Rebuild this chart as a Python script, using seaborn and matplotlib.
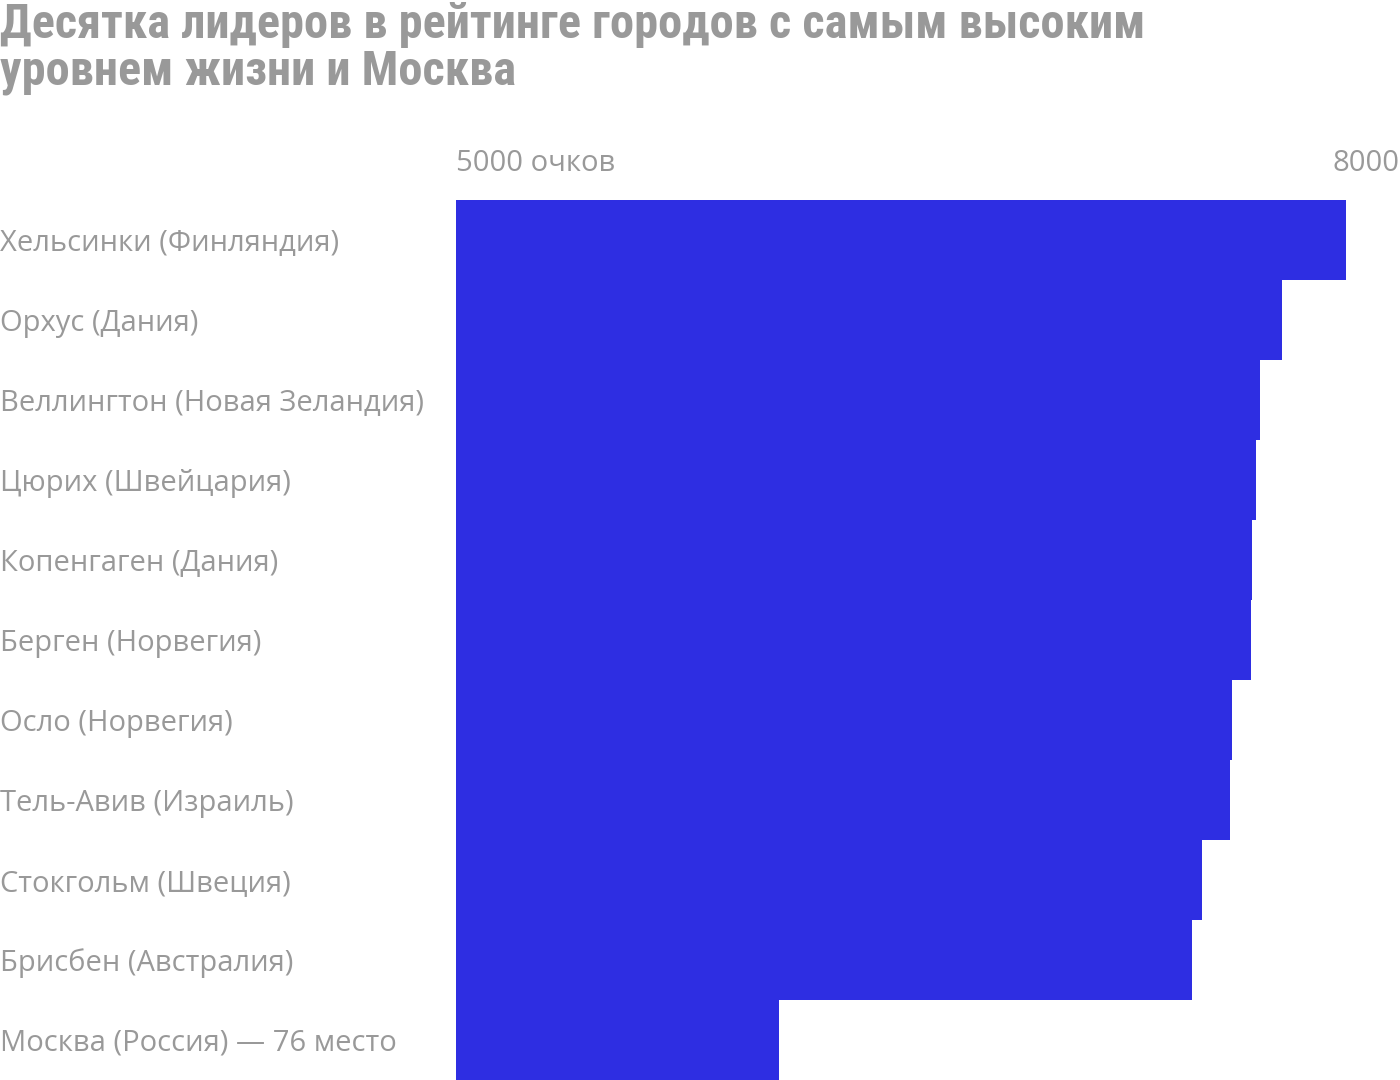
import matplotlib
matplotlib.use("Agg")
import matplotlib.pyplot as plt
import matplotlib.transforms as mtransforms
import seaborn as sns
import pandas as pd

# Data
cities = [
    "Хельсинки (Финляндия)",
    "Орхус (Дания)",
    "Веллингтон (Новая Зеландия)",
    "Цюрих (Швейцария)",
    "Копенгаген (Дания)",
    "Берген (Норвегия)",
    "Осло (Норвегия)",
    "Тель-Авив (Израиль)",
    "Стокгольм (Швеция)",
    "Брисбен (Австралия)",
    "Москва (Россия) — 76 место",
]
scores = [7828, 7625, 7555, 7542, 7530, 7528, 7466, 7460, 7371, 7339, 6027]
x_ticks = [5000, 8000]
x_tick_labels = ["5000 очков", "8000"]
title = "Десятка лидеров в рейтинге городов с самым высоким\nуровнем жизни и Москва"

df = pd.DataFrame({"city": cities, "score": scores})

sns.set_theme(style="white")
plt.rcParams["font.family"] = ["Open Sans", "DejaVu Sans"]

grey = "#999999"
bar_color = "#2E2EE2"

fig = plt.figure(figsize=(14, 10.8), dpi=100)
ax = fig.add_axes([456 / 1400, 0, 944 / 1400, 880 / 1080])

sns.barplot(data=df, x="score", y="city", orient="h", color=bar_color,
            saturation=1, width=1.0, ax=ax, linewidth=0)

ax.set_xlim(5000, 8000)
ax.set_ylim(len(cities) - 0.5, -0.5)
for s in ax.spines.values():
    s.set_visible(False)
ax.set_xlabel("")
ax.set_ylabel("")
ax.set_yticks([])

ax.xaxis.tick_top()
ax.set_xticks(x_ticks)
ax.set_xticklabels(x_tick_labels, fontsize=21, color=grey)
ax.tick_params(axis="x", length=0, pad=16)
labs = ax.get_xticklabels()
labs[0].set_ha("left")
labs[1].set_ha("right")

# city labels at the left edge of the figure, centred on each bar
trans = mtransforms.blended_transform_factory(fig.transFigure, ax.transData)
trans = mtransforms.offset_copy(trans, fig=fig, y=-2.2, units="points")
for i, name in enumerate(cities):
    ax.text(0.0, i, name, transform=trans, ha="left", va="center",
            fontsize=21, color=grey, clip_on=False)

fig.text(0.0, 1 - 2 / 1080, title, ha="left", va="top", fontsize=34.8,
         fontweight="bold", color=grey, linespacing=1.02,
         family=["Roboto Condensed", "Liberation Sans Narrow", "Roboto", "DejaVu Sans"])

fig.savefig("out.png", dpi=100)
